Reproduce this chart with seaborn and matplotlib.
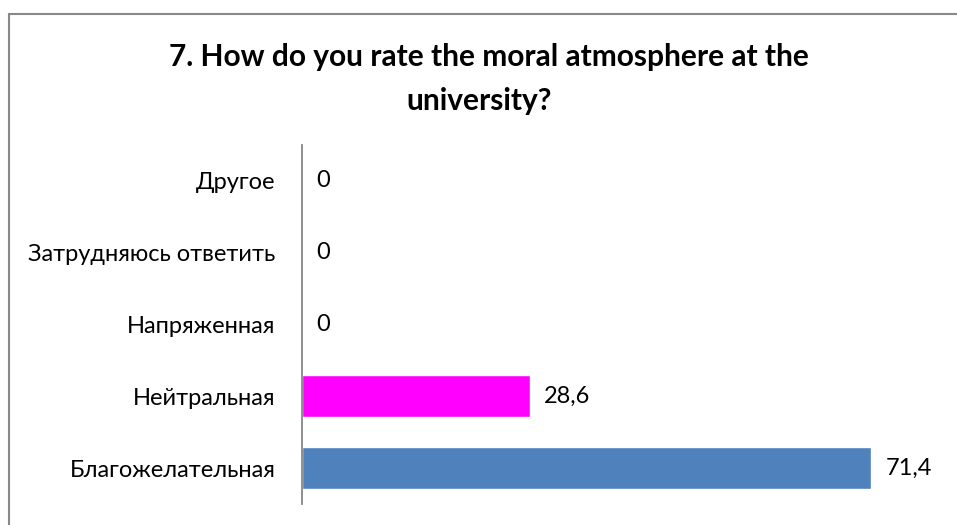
import matplotlib
matplotlib.use("Agg")
import matplotlib.pyplot as plt
from matplotlib.lines import Line2D
import seaborn as sns
import pandas as pd

categories = ["Другое", "Затрудняюсь ответить", "Напряженная", "Нейтральная", "Благожелательная"]
values = [0, 0, 0, 28.6, 71.4]
bar_colors = ["#4F81BD", "#4F81BD", "#4F81BD", "#FF00FF", "#4F81BD"]
title_lines = ["7. How do you rate the moral atmosphere at the", "university?"]

sns.set_theme(style="white")
plt.rcParams["font.family"] = ["Lato", "DejaVu Sans"]
plt.rcParams["text.color"] = "#000000"

df = pd.DataFrame({"category": categories, "value": values})

fig = plt.figure(figsize=(9.57, 5.25), dpi=100)
ax = fig.add_axes([302 / 957, 21 / 525, (940 - 302) / 957, (504 - 145) / 525])

sns.barplot(data=df, x="value", y="category", hue="category", palette=bar_colors,
            legend=False, width=0.58, ax=ax, orient="h", saturation=1)

ax.set_xlim(0, 80)
ax.set_xlabel("")
ax.set_ylabel("")
ax.set_xticks([])
for s in ["top", "right", "bottom"]:
    ax.spines[s].set_visible(False)
ax.spines["left"].set_color("#868686")
ax.spines["left"].set_linewidth(1.3)
ax.tick_params(axis="y", length=0, pad=19, labelsize=17, labelcolor="#000000")

for cont in ax.containers:
    ax.bar_label(cont, labels=[f"{v:g}".replace(".", ",") for v in cont.datavalues],
                 padding=10, fontsize=17, color="#000000")

fig.text(0.511, 1 - 57 / 525, title_lines[0],
         ha="center", va="center", fontsize=21.5, fontweight="bold", color="#000000")
fig.text(0.501, 1 - 101 / 525, title_lines[1],
         ha="center", va="center", fontsize=21.5, fontweight="bold", color="#000000")

fig.add_artist(Line2D([8.5 / 957, 8.5 / 957], [0, 1 - 14 / 525], transform=fig.transFigure,
                      color="#888888", lw=1.5))
fig.add_artist(Line2D([8.5 / 957, 1], [1 - 14 / 525, 1 - 14 / 525], transform=fig.transFigure,
                      color="#888888", lw=1.5))

fig.savefig("out.png", dpi=100, facecolor="white")
